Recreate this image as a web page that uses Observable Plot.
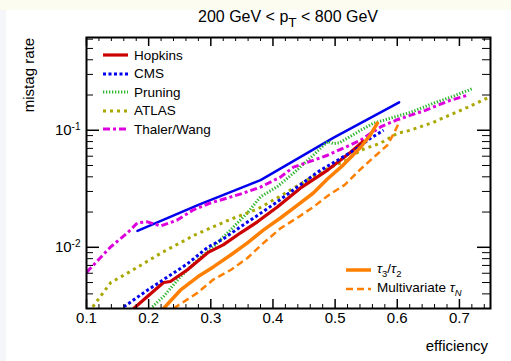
<!DOCTYPE html>
<html><head><meta charset="utf-8">
<script src="https://cdn.jsdelivr.net/npm/d3@7"></script>
<script src="https://cdn.jsdelivr.net/npm/@observablehq/plot@0.6"></script>
<style>
body{margin:0;background:#f5f6fa;font-family:"Liberation Sans",Arial,sans-serif;}
#topband{position:absolute;left:0;top:0;width:511px;height:10px;background:#fcfcf0;}
#card{position:absolute;left:6px;top:10px;width:505px;height:351px;background:#fff;}
#wrap{position:absolute;left:0;top:0;width:511px;height:361px;}
.t{position:absolute;white-space:nowrap;color:#000;line-height:1;}
.leg{position:absolute;font-size:13.5px;line-height:1;}
.leg .row{display:flex;align-items:center;height:18.5px;}
.leg svg{margin-right:6px;}
</style></head><body>
<div id="topband"></div><div id="card"></div>
<div id="wrap"></div>
<script>
// ---- data (efficiency, mistag rate) ----
const refX = [0.182, 0.28, 0.38, 0.412, 0.497, 0.603];
const refY = [0.0138, 0.023, 0.0375, 0.047, 0.086, 0.173];

const thalerX = [0.10, 0.139, 0.166, 0.182, 0.198, 0.219, 0.246, 0.272, 0.299, 0.327, 0.353, 0.380, 0.412, 0.433, 0.488, 0.541, 0.557, 0.575, 0.600, 0.645, 0.685, 0.713];
const thalerY = [0.0061, 0.0101, 0.0133, 0.0162, 0.0165, 0.0152, 0.0171, 0.0209, 0.0239, 0.0264, 0.0291, 0.0327, 0.0398, 0.0484, 0.0612, 0.0822, 0.094, 0.108, 0.123, 0.148, 0.18, 0.199];

const pruningX = [0.206, 0.224, 0.251, 0.279, 0.304, 0.332, 0.359, 0.38, 0.407, 0.433, 0.46, 0.488, 0.497, 0.507, 0.541, 0.562, 0.594, 0.621, 0.658, 0.690, 0.722];
const pruningY = [0.0031, 0.0038, 0.0056, 0.0078, 0.0101, 0.0141, 0.0197, 0.0270, 0.033, 0.0430, 0.058, 0.080, 0.077, 0.078, 0.1, 0.115, 0.129, 0.142, 0.17, 0.195, 0.228];

const atlasX = [0.11, 0.139, 0.168, 0.221, 0.275, 0.33, 0.375, 0.41, 0.46, 0.488, 0.52, 0.541, 0.573, 0.60, 0.621, 0.658, 0.713, 0.75];
const atlasY = [0.0031, 0.005, 0.0061, 0.009, 0.0128, 0.0172, 0.0212, 0.027, 0.039, 0.047, 0.056, 0.0676, 0.0775, 0.094, 0.1, 0.117, 0.157, 0.194];

const hopkinsX = [0.176, 0.198, 0.224, 0.235, 0.262, 0.295, 0.320, 0.348, 0.375, 0.407, 0.444, 0.488, 0.525, 0.545];
const hopkinsY = [0.0030, 0.0038, 0.0050, 0.0051, 0.0064, 0.0090, 0.0105, 0.0133, 0.0165, 0.0221, 0.032, 0.0457, 0.065, 0.080];

const cmsX = [0.160, 0.198, 0.224, 0.262, 0.295, 0.320, 0.348, 0.375, 0.407, 0.440, 0.472, 0.504, 0.536, 0.557, 0.578];
const cmsY = [0.0031, 0.0043, 0.0053, 0.0072, 0.0100, 0.0118, 0.0150, 0.0187, 0.0245, 0.033, 0.044, 0.0555, 0.0703, 0.0855, 0.100];

const tauX = [0.224, 0.251, 0.279, 0.304, 0.332, 0.359, 0.385, 0.412, 0.440, 0.465, 0.488, 0.513, 0.541, 0.556, 0.568];
const tauY = [0.0030, 0.0043, 0.0056, 0.0068, 0.0086, 0.0109, 0.0141, 0.0178, 0.0230, 0.0291, 0.0385, 0.0504, 0.0716, 0.090, 0.115];

const mvaX = [0.240, 0.279, 0.304, 0.332, 0.359, 0.385, 0.412, 0.440, 0.465, 0.490, 0.515, 0.540, 0.557, 0.584, 0.595, 0.604];
const mvaY = [0.0030, 0.0041, 0.0053, 0.0064, 0.0081, 0.0109, 0.0145, 0.018, 0.0221, 0.028, 0.034, 0.046, 0.0556, 0.0745, 0.095, 0.12];

const xTickLabels = [0.1, 0.2, 0.3, 0.4, 0.5, 0.6, 0.7];
const yTickLabels = [0.01, 0.1];
const yTickText = ["10^-2", "10^-1"];

// ---- styles ----
const series = [
  {key:"ref",     xs:refX,     ys:refY,     stroke:"#0000ee", w:2.5, dash:null},
  {key:"pruning", xs:pruningX, ys:pruningY, stroke:"#2db52d", w:3,   dash:"1.3 1.7"},
  {key:"thaler",  xs:thalerX,  ys:thalerY,  stroke:"#dd00dd", w:3,   dash:"7 3 3 3"},
  {key:"atlas",   xs:atlasX,   ys:atlasY,   stroke:"#a9a800", w:3,   dash:"3 4"},
  {key:"hopkins", xs:hopkinsX, ys:hopkinsY, stroke:"#cc0000", w:3.2, dash:null},
  {key:"cms",     xs:cmsX,     ys:cmsY,     stroke:"#0000ee", w:3,   dash:"3 2.5"},
  {key:"mva",     xs:mvaX,     ys:mvaY,     stroke:"#ff8000", w:2.5, dash:"7 4"},
  {key:"tau",     xs:tauX,     ys:tauY,     stroke:"#ff8000", w:3.5, dash:null}
];

const mL = 86, mR = 21, mT = 37, mB = 53;
const fh = 361 - mT - mB;

const xMinor = d3.range(0.1, 0.7501, 0.02).map(v => +v.toFixed(2)).filter(v => !xTickLabels.includes(v));
const yMinor = [];
for (const dec of [0.001, 0.01, 0.1]) for (let k = 2; k <= 9; k++) { const v = +(k*dec).toPrecision(2); if (v >= 0.003 && v <= 0.62) yMinor.push(v); }

const lineMarks = series.map(s => Plot.line(s.xs.map((x,i) => ({x, y: s.ys[i]})), {
  x:"x", y:"y", stroke:s.stroke, strokeWidth:s.w, strokeDasharray:s.dash,
  strokeLinecap: s.dash ? "butt" : "round", strokeLinejoin:"round", clip:true
}));

const chart = Plot.plot({
  width: 511, height: 361,
  marginLeft: mL, marginRight: mR, marginTop: mT, marginBottom: mB,
  style: {background:"transparent", fontFamily:"Liberation Sans, Arial, sans-serif"},
  x: {domain:[0.1, 0.75]},
  y: {type:"log", domain:[0.003, 0.62]},
  marks: [
    ...lineMarks,
    // inward ticks
    Plot.tickX(xMinor, {x:d=>d, insetTop: fh-4, stroke:"#000", strokeWidth:1}),
    Plot.tickX(xTickLabels, {x:d=>d, insetTop: fh-9, stroke:"#000", strokeWidth:1.5}),
    Plot.tickX(xMinor, {x:d=>d, insetBottom: fh-4, stroke:"#000", strokeWidth:1}),
    Plot.tickX(xTickLabels, {x:d=>d, insetBottom: fh-9, stroke:"#000", strokeWidth:1.5}),
    Plot.tickY(yMinor, {y:d=>d, insetRight: 404-7, stroke:"#000", strokeWidth:1}),
    Plot.tickY(yTickLabels, {y:d=>d, insetRight: 404-13, stroke:"#000", strokeWidth:1.5}),
    Plot.tickY(yMinor, {y:d=>d, insetLeft: 404-8, stroke:"#000", strokeWidth:1}),
    Plot.tickY(yTickLabels, {y:d=>d, insetLeft: 404-13, stroke:"#000", strokeWidth:1.5}),
    Plot.frame({stroke:"#000", strokeWidth:2}),
    Plot.axisX(xTickLabels, {tickSize:0, tickPadding:4, fontSize:15, tickFormat:d3.format(".1f"), label:null}),
    Plot.axisY(yTickLabels, {tickSize:0, tickPadding:6, fontSize:15, tickFormat:(d)=>yTickText[yTickLabels.indexOf(d)], label:null})
  ]
});

const byKey = Object.fromEntries(series.map(s => [s.key, s]));

// superscripts for the y tick labels
d3.select(chart).selectAll('g[aria-label="y-axis tick label"] text').each(function(){
  const t = this.textContent; const [b, e] = t.split("^");
  const sel = d3.select(this); sel.text(null);
  sel.append("tspan").text(b);
  sel.append("tspan").attr("dy","-0.55em").attr("font-size","10px").text(e);
});

const wrap = document.getElementById("wrap");
wrap.appendChild(chart);
chart.style.position = "absolute"; chart.style.left = "0"; chart.style.top = "0";

function addText(html, css){ const d = document.createElement("div"); d.className = "t"; d.innerHTML = html; Object.assign(d.style, css); wrap.appendChild(d); return d; }
addText('200 GeV &lt; p<span style="font-size:0.85em;position:relative;top:0.35em">T</span> &lt; 800 GeV', {left:"288px", top:"9px", fontSize:"16px", transform:"translateX(-50%)"});
addText('efficiency', {right:"23px", top:"338px", fontSize:"15px"});
addText('mistag rate', {left:"21px", top:"38px", fontSize:"15px", transformOrigin:"0 0", transform:"rotate(-90deg) translateX(-100%)"});

function swatch(s){
  const dash = s.dash ? `stroke-dasharray="${s.dash}"` : "";
  return `<svg width="25" height="8"><line x1="0" y1="4" x2="25" y2="4" stroke="${s.stroke}" stroke-width="${s.w}" ${dash}/></svg>`;
}
const leg1 = [["hopkins","Hopkins"],["cms","CMS"],["pruning","Pruning"],["atlas","ATLAS"],["thaler","Thaler/Wang"]];
const l1 = document.createElement("div"); l1.className = "leg"; l1.style.left = "103px"; l1.style.top = "46px";
l1.innerHTML = leg1.map(([k, n]) => `<div class="row">${swatch(byKey[k])}<span>${n}</span></div>`).join("");
wrap.appendChild(l1);
const leg2 = [["tau",'<i>τ</i><sub style="font-size:0.7em">3</sub>/<i>τ</i><sub style="font-size:0.7em">2</sub>'],["mva",'Multivariate <i>τ</i><sub style="font-size:0.7em"><i>N</i></sub>']];
const l2 = document.createElement("div"); l2.className = "leg"; l2.style.left = "346px"; l2.style.top = "261px";
l2.innerHTML = leg2.map(([k, n]) => `<div class="row">${swatch(byKey[k])}<span>${n}</span></div>`).join("");
wrap.appendChild(l2);
</script>
</body></html>
